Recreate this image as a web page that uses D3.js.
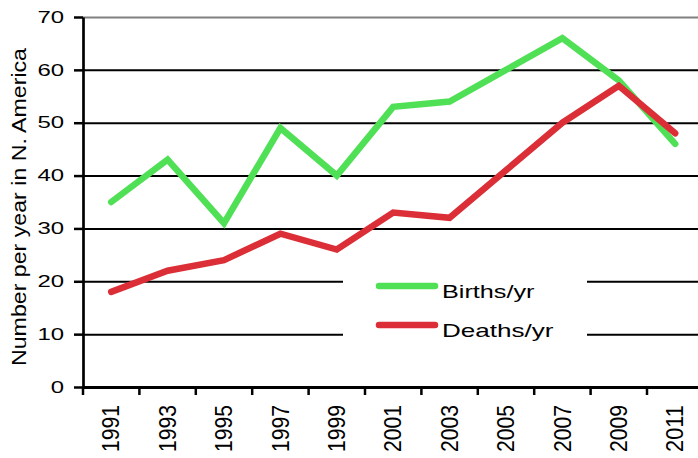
<!DOCTYPE html>
<html><head><meta charset="utf-8">
<script src="https://cdn.jsdelivr.net/npm/d3@7/dist/d3.min.js"></script>
<style>
html,body{margin:0;padding:0;background:#fff;}
text{font-family:"Liberation Sans",Arial,sans-serif;fill:#000;}
</style></head>
<body>
<svg id="chart" width="698" height="458"></svg>
<script>
const years = ["1991","1993","1995","1997","1999","2001","2003","2005","2007","2009","2011"];
const births = [35,43,31,49,40,53,54,60,66,58,46];
const deaths = [18,22,24,29,26,33,32,41,50,57,48];
const yTicks = [0,10,20,30,40,50,60,70];
const seriesNames = ["Births/yr","Deaths/yr"];
const seriesColors = ["#50e056","#dc2e36"];
const yTitle = "Number per year in N. America";

(function(){
const W = 698, H = 458;
const mLeft = 83, mBottom = 387, mTop = 17, band = 56.4;
const svg = d3.select("#chart");

const x = d3.scaleBand().domain(years).range([mLeft, mLeft + band*years.length]).padding(0);
const y = d3.scaleLinear().domain([0,70]).range([mBottom, mTop]);

// gridlines
const grid = svg.append("g").attr("transform",`translate(${mLeft},0)`)
  .call(d3.axisLeft(y).tickValues(yTicks.filter(v=>v>0)).tickSize(-(W-mLeft)).tickFormat(""));
grid.select(".domain").remove();
grid.selectAll(".tick line").attr("stroke","#000").attr("stroke-width",2)
  .filter(d=>d===70).attr("stroke","#808080");

// series lines
const line = d3.line().x((d,i)=>x(years[i])+x.bandwidth()/2).y(d=>y(d));
[births,deaths].forEach((s,k)=>{
  svg.append("path").datum(s).attr("d",line).attr("fill","none")
    .attr("stroke",seriesColors[k]).attr("stroke-width",6.5)
    .attr("stroke-linecap","round").attr("stroke-linejoin","miter");
});

// legend
const lg = svg.append("g");
lg.append("rect").attr("x",343).attr("y",258).attr("width",244).attr("height",98).attr("fill","#fff");
const legY = [286,325];
const legLen = [92.5,111.5];
seriesNames.forEach((n,k)=>{
  lg.append("line").attr("x1",379).attr("x2",435).attr("y1",legY[k]).attr("y2",legY[k])
    .attr("stroke",seriesColors[k]).attr("stroke-width",6.5).attr("stroke-linecap","round");
  lg.append("text").attr("x",442).attr("y",legY[k]+11.6).attr("font-size",18.6)
    .attr("textLength",legLen[k]).attr("lengthAdjust","spacingAndGlyphs").text(n);
});

// y axis
const ya = svg.append("g").attr("transform",`translate(${mLeft},0)`)
  .call(d3.axisLeft(y).tickValues(yTicks).tickSize(9).tickSizeOuter(0).tickPadding(10));
ya.attr("font-family",null).attr("font-size",null);
ya.select(".domain").attr("stroke","#000").attr("stroke-width",2.7);
ya.selectAll(".tick line").attr("stroke","#000").attr("stroke-width",2.5);
ya.selectAll(".tick text").attr("font-size",16.5)
  .attr("textLength",d=>13.3*String(d).length).attr("lengthAdjust","spacingAndGlyphs");

// x axis
const xa = svg.append("g").attr("transform",`translate(0,${mBottom})`)
  .call(d3.axisBottom(x).tickSize(0).tickSizeOuter(0));
xa.attr("font-family",null).attr("font-size",null);
xa.select(".domain").attr("stroke","#000").attr("stroke-width",3);
xa.selectAll(".tick text").attr("font-size",23)
  .attr("transform","rotate(-90)").attr("text-anchor","end")
  .attr("x",-18).attr("y",0).attr("dy","0.36em")
  .attr("textLength",47).attr("lengthAdjust","spacingAndGlyphs");
const bounds = years.map(d=>x(d)).concat([x.range()[1]]);
svg.append("g").selectAll("line").data(bounds).join("line")
  .attr("x1",d=>d).attr("x2",d=>d).attr("y1",mBottom).attr("y2",mBottom+8)
  .attr("stroke","#000").attr("stroke-width",2.5);

// y title
svg.append("text").attr("transform","translate(25.7,207) rotate(-90)")
  .attr("text-anchor","middle").attr("font-size",19.5)
  .attr("textLength",318).attr("lengthAdjust","spacingAndGlyphs").text(yTitle);
})();
</script>
</body></html>
